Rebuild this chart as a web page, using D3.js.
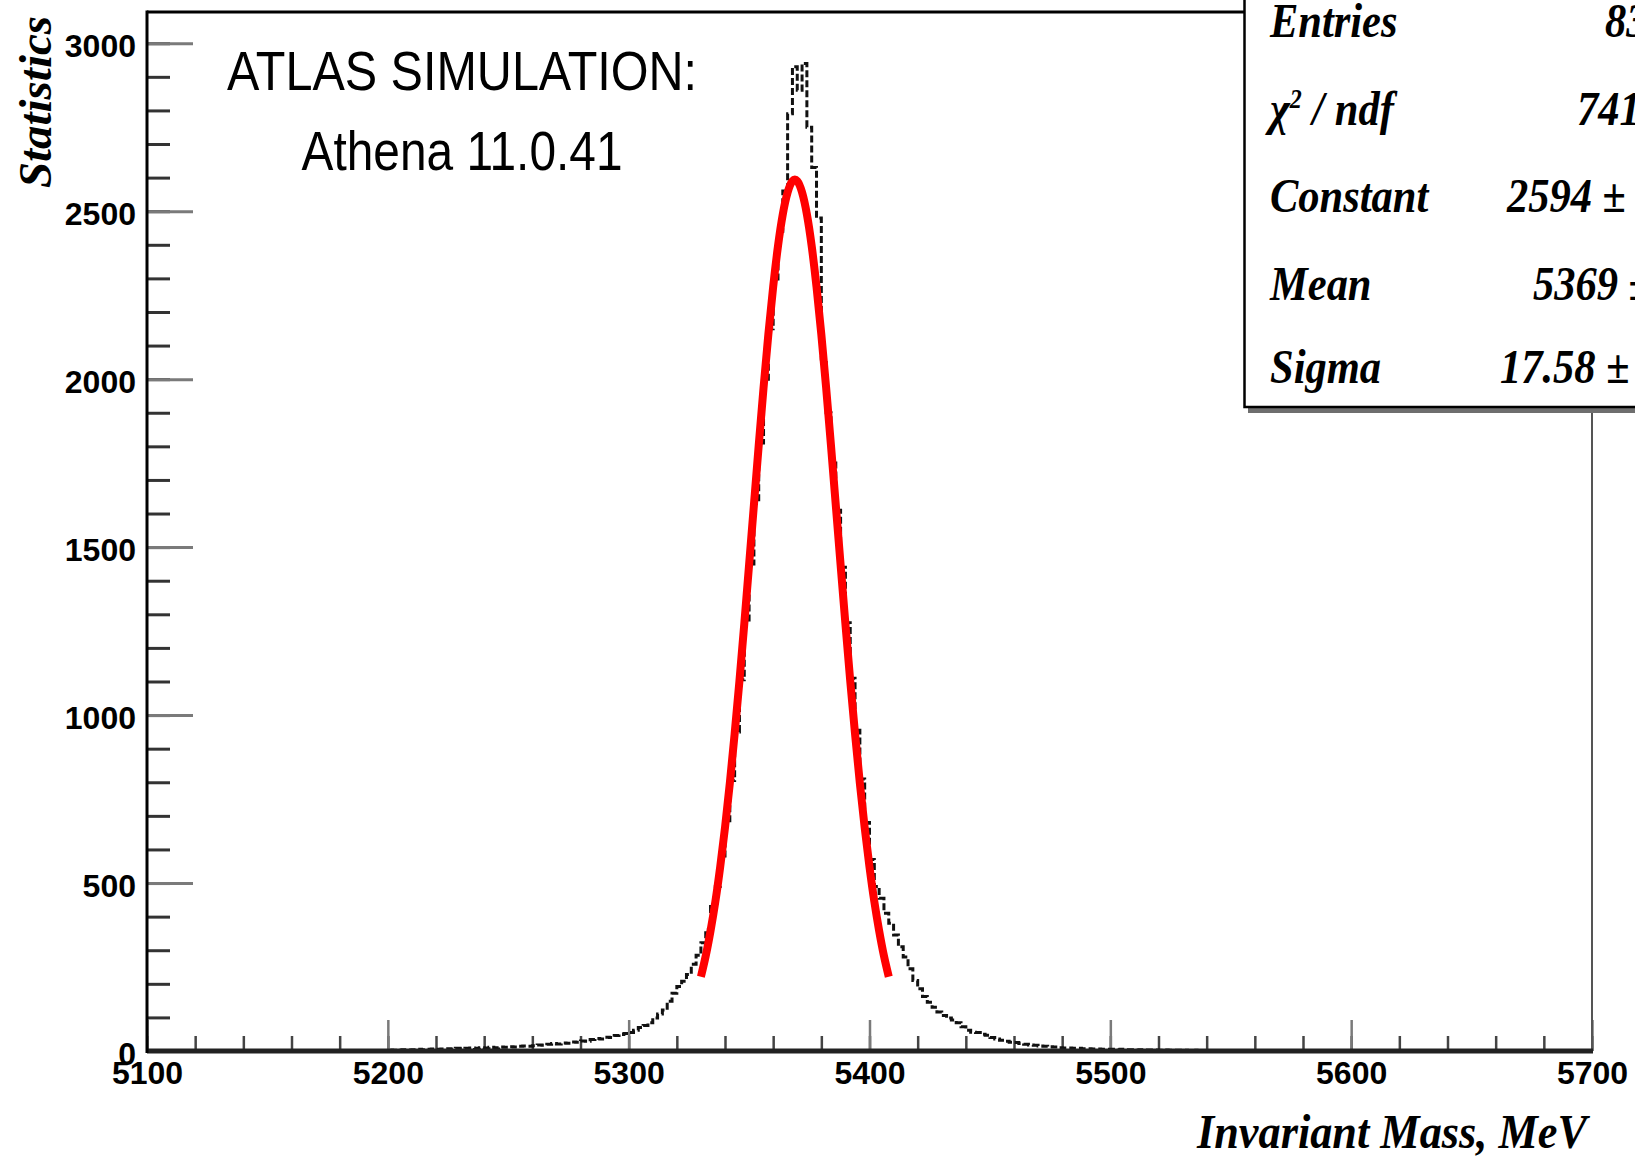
<!DOCTYPE html>
<html>
  <head>
    <meta charset="utf-8">
    <title>Invariant Mass</title>
    <script src="https://d3js.org/d3.v7.min.js"></script>
    <style>
      body { margin: 0; background: #fff; overflow: hidden; }
      svg { display: block; }
      .tick text { font-family: "Liberation Sans", Arial, sans-serif; font-weight: bold; font-size: 32px; fill: #000; }
      .serif { font-family: "Liberation Serif", "Times New Roman", serif; font-weight: bold; font-style: italic; fill: #000; }
      .sans { font-family: "Liberation Sans", Arial, sans-serif; fill: #000; }
    </style>
  </head>
  <body>
    <script>
      // histogram: 2 MeV bins starting at 5200 MeV
      const histStart = 5200;
      const binWidth = 2;
      const histCounts = [
        3, 2, 3, 4, 3, 4, 5, 4, 5, 6, 5, 6, 7, 6, 8, 7, 8, 9, 8, 10, 9, 11, 10, 12, 11, 13, 12, 14, 15, 14,
        16, 18, 17, 20, 22, 21, 24, 23, 27, 26, 30, 29, 34, 37, 36, 41, 40, 46, 49, 52,
        55, 62, 70, 76, 84, 98, 110, 122, 148, 172, 192, 208, 228, 258, 285, 322, 362, 430, 490, 575,
        680, 805, 950, 1105, 1275, 1450, 1630, 1810, 1990, 2150, 2290, 2440, 2560, 2790, 2930, 2860, 2940, 2750, 2630, 2480,
        2060, 1900, 1760, 1610, 1440, 1275, 1110, 955, 810, 680, 570, 490, 455, 410, 380, 345, 310, 280, 245, 210,
        185, 162, 145, 130, 116, 106, 98, 92, 84, 72, 62, 56, 55, 50, 47, 40, 36, 32, 29, 26,
        25, 22, 20, 18, 17, 15, 14, 13, 12, 10, 9, 9, 8, 8, 7, 7, 6, 6, 5, 5,
        5, 4, 5, 4, 4, 3, 4, 3, 3, 3, 2, 3, 2, 2, 2, 2, 1, 2, 1, 1, 1, 1, 1, 1, 0, 1, 0, 0, 1, 0, 0
      ];

      // red fit curve, read every 2 MeV from 5330 to 5408
      const fitStart = 5330;
      const fitStep = 2;
      const fitValues = [
        221, 283, 358, 445, 548, 665, 797, 944, 1102, 1271, 1447, 1625, 1803, 1974, 2133, 2275, 2396, 2491, 2556, 2590,
        2590, 2556, 2491, 2396, 2275, 2133, 1974, 1803, 1625, 1447, 1271, 1102, 944, 797, 665, 548, 445, 358, 283, 221
      ];

      const yTicks = [0, 500, 1000, 1500, 2000, 2500, 3000];
      const xTicks = [5100, 5200, 5300, 5400, 5500, 5600, 5700];
      const statLabels = ['Entries', 'χ', 'Constant', 'Mean', 'Sigma'];
      const statValues = ['83', '741', '2594 ±', '5369 ±', '17.58 ±'];
      const headerLines = ['ATLAS SIMULATION:', 'Athena 11.0.41'];
      const xTitle = 'Invariant Mass, MeV';
      const yTitle = 'Statistics';

      const W = 1635, H = 1159;
      const m = {left: 147, top: 12, right: 1592, bottom: 1051};

      const x = d3.scaleLinear().domain([5100, 5700]).range([m.left, m.right]);
      const y = d3.scaleLinear().domain([0, 3093]).range([m.bottom, m.top]);

      const svg = d3.select('body')
                    .append('svg')
                    .attr('width', W)
                    .attr('height', H);

      // y axis: minor then major ticks, drawn inside the frame
      svg.append('g')
         .attr('transform', `translate(${m.left},0)`)
         .call(d3.axisLeft(y).tickValues(d3.range(0, 3093, 100)).tickSize(-23).tickFormat(''))
         .call(g => g.select('.domain').remove())
         .call(g => g.selectAll('line').attr('stroke', '#333').attr('stroke-width', 3));

      svg.append('g')
         .attr('transform', `translate(${m.left},0)`)
         .call(d3.axisLeft(y).tickValues(yTicks).tickSize(-46).tickPadding(11).tickFormat(d3.format('d')))
         .call(g => g.select('.domain').remove())
         .call(g => g.selectAll('line').attr('stroke', '#7a7a7a').attr('stroke-width', 3))
         .call(g => g.selectAll('text').attr('dy', '0.42em'));

      // x axis
      svg.append('g')
         .attr('transform', `translate(0,${m.bottom})`)
         .call(d3.axisBottom(x).tickValues(d3.range(5100, 5701, 20)).tickSize(-15).tickFormat(''))
         .call(g => g.select('.domain').remove())
         .call(g => g.selectAll('line').attr('stroke', '#444').attr('stroke-width', 2.5));

      svg.append('g')
         .attr('transform', `translate(0,${m.bottom})`)
         .call(d3.axisBottom(x).tickValues(xTicks).tickSize(-31).tickPadding(10).tickFormat(d3.format('d')))
         .call(g => g.select('.domain').remove())
         .call(g => g.selectAll('line').attr('stroke', '#7a7a7a').attr('stroke-width', 2.5));

      // histogram (dashed step line)
      const histPts = histCounts.map((c, i) => [histStart + (i + 0.5) * binWidth, c]);
      svg.append('path')
         .datum(histPts)
         .attr('fill', 'none')
         .attr('stroke', '#111')
         .attr('stroke-width', 3)
         .attr('stroke-dasharray', '7,3')
         .attr('d', d3.line().x(d => x(d[0])).y(d => y(d[1])).curve(d3.curveStep));

      // gaussian fit
      const fitPts = fitValues.map((v, i) => [fitStart + i * fitStep, v]);
      svg.append('path')
         .datum(fitPts)
         .attr('fill', 'none')
         .attr('stroke', '#ff0000')
         .attr('stroke-width', 8)
         .attr('d', d3.line().x(d => x(d[0])).y(d => y(d[1])).curve(d3.curveNatural));

      // frame
      const frame = svg.append('g');
      frame.append('line').attr('x1', m.left).attr('x2', m.right).attr('y1', m.top).attr('y2', m.top)
           .attr('stroke', '#000').attr('stroke-width', 3);
      frame.append('line').attr('x1', m.right).attr('x2', m.right).attr('y1', m.top).attr('y2', m.bottom)
           .attr('stroke', '#555').attr('stroke-width', 2);
      frame.append('line').attr('x1', m.left).attr('x2', m.right + 1).attr('y1', m.bottom).attr('y2', m.bottom)
           .attr('stroke', '#222').attr('stroke-width', 5);
      frame.append('line').attr('x1', m.left).attr('x2', m.left).attr('y1', m.top - 1.5).attr('y2', m.bottom + 2)
           .attr('stroke', '#000').attr('stroke-width', 3);

      function addText(parent, txt, x0, y0, o) {
        const t = parent.append('text')
          .attr('transform', `translate(${x0},${y0}) scale(1,${o.sy || 1})`)
          .attr('class', o.cls)
          .attr('font-size', o.size)
          .attr('text-anchor', o.anchor || 'start')
          .text(txt);
        if (o.len) t.attr('textLength', o.len).attr('lengthAdjust', 'spacingAndGlyphs');
        return t;
      }

      addText(svg, headerLines[0], 462, 90, {cls: 'sans', size: 48, sy: 1.15, anchor: 'middle', len: 470});
      addText(svg, headerLines[1], 462, 170, {cls: 'sans', size: 48, sy: 1.15, anchor: 'middle', len: 321});

      addText(svg, xTitle, 1587, 1148, {cls: 'serif', size: 44, sy: 1.12, anchor: 'end', len: 390});

      svg.append('text')
         .attr('class', 'serif')
         .attr('transform', 'translate(51,16) rotate(-90)')
         .attr('font-size', 47)
         .attr('text-anchor', 'end')
         .attr('textLength', 172)
         .attr('lengthAdjust', 'spacingAndGlyphs')
         .text(yTitle);

      // statistics box
      const box = svg.append('g');
      box.append('rect').attr('x', 1248).attr('y', -20).attr('width', 600).attr('height', 433).attr('fill', '#6e6e6e');
      box.append('rect').attr('x', 1244.5).attr('y', -20).attr('width', 600).attr('height', 427)
         .attr('fill', '#fff').attr('stroke', '#000').attr('stroke-width', 2.5);

      const rowY = [37, 125, 212, 300, 383];
      const valueX = [1605, 1577, 1507, 1533, 1500];
      statLabels.forEach((s, i) => {
        const t = addText(box, s, 1270, rowY[i], {cls: 'serif', size: 42.5, sy: 1.13});
        if (i === 1) {
          t.append('tspan').attr('font-size', 24).attr('dy', -15).text('2');
          t.append('tspan').attr('dy', 15).text(' / ndf');
        }
        addText(box, statValues[i], valueX[i], rowY[i], {cls: 'serif', size: 42.5, sy: 1.13});
      });
    </script>
  </body>
</html>
